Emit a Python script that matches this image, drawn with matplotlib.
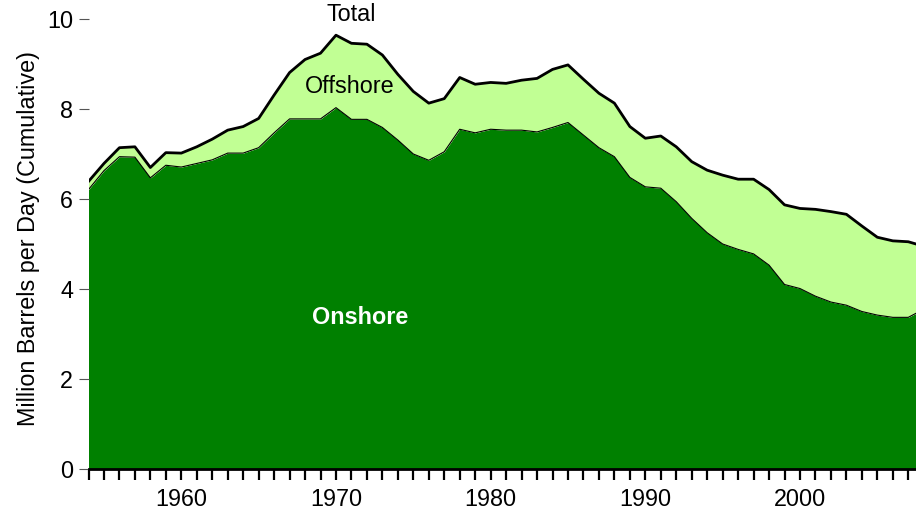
import matplotlib.pyplot as plt

plt.rcParams['font.family'] = ['Liberation Sans', 'DejaVu Sans']

# US crude oil production, million barrels per day
years = list(range(1954, 2009))
total = [6.39, 6.79, 7.14, 7.16, 6.70, 7.03, 7.02, 7.16, 7.33, 7.53,
         7.61, 7.79, 8.31, 8.81, 9.10, 9.24, 9.64, 9.46, 9.44, 9.20,
         8.77, 8.39, 8.13, 8.23, 8.70, 8.55, 8.59, 8.57, 8.64, 8.68,
         8.88, 8.98, 8.66, 8.35, 8.13, 7.61, 7.35, 7.40, 7.16, 6.83,
         6.64, 6.53, 6.44, 6.44, 6.21, 5.87, 5.79, 5.77, 5.72, 5.66,
         5.40, 5.15, 5.07, 5.05, 4.95]
onshore = [6.21, 6.63, 6.94, 6.93, 6.47, 6.75, 6.71, 6.79, 6.87, 7.02,
           7.02, 7.14, 7.47, 7.78, 7.78, 7.78, 8.03, 7.77, 7.77, 7.59,
           7.31, 7.00, 6.86, 7.05, 7.55, 7.47, 7.55, 7.53, 7.53, 7.49,
           7.59, 7.70, 7.42, 7.14, 6.94, 6.48, 6.27, 6.24, 5.94, 5.57,
           5.25, 5.00, 4.88, 4.78, 4.53, 4.10, 4.01, 3.84, 3.71, 3.64,
           3.50, 3.42, 3.37, 3.37, 3.55]

tick_years = list(range(1954, 2008))
tick_labels = [str(y) if y % 10 == 0 else '' for y in tick_years]
y_ticks = [0, 2, 4, 6, 8, 10]

dark_green = '#008000'
light_green = '#C1FF94'
fs = 16.8

fig = plt.figure(figsize=(9.16, 5.09), dpi=100)
ax = fig.add_axes([88.5 / 916, 1 - 469 / 509, (916 - 88.5) / 916, 463.5 / 509])

ax.fill_between(years, 0, onshore, color=dark_green, lw=0)
ax.fill_between(years, onshore, total, color=light_green, lw=0)
ax.plot(years, onshore, color='black', lw=0.8)
ax.plot(years, total, color='black', lw=2)

ax.set_xlim(1954, 2007.5)
ax.set_ylim(0, 10.3)

ax.set_xticks(tick_years)
ax.set_xticklabels(tick_labels)
ax.set_yticks(y_ticks)
ax.tick_params(axis='x', length=8, width=1.6, color='black', pad=5.5, labelsize=fs)
ax.tick_params(axis='y', length=7, width=0.8, color='#555555', pad=4, labelsize=fs)

for side in ['left', 'top', 'right']:
    ax.spines[side].set_visible(False)
ax.spines['bottom'].set_linewidth(2)

ax.text(1971.0, 10.1, 'Total', ha='center', va='center', fontsize=fs)
ax.text(1970.9, 8.51, 'Offshore', ha='center', va='center', fontsize=fs)
ax.text(1971.55, 3.36, 'Onshore', ha='center', va='center', fontsize=fs,
        color='white', fontweight='bold')

fig.text(29 / 916, 1 - 238 / 509, 'Million Barrels per Day (Cumulative)',
         rotation=90, ha='center', va='center', fontsize=fs)

fig.savefig('out.png', dpi=100)
